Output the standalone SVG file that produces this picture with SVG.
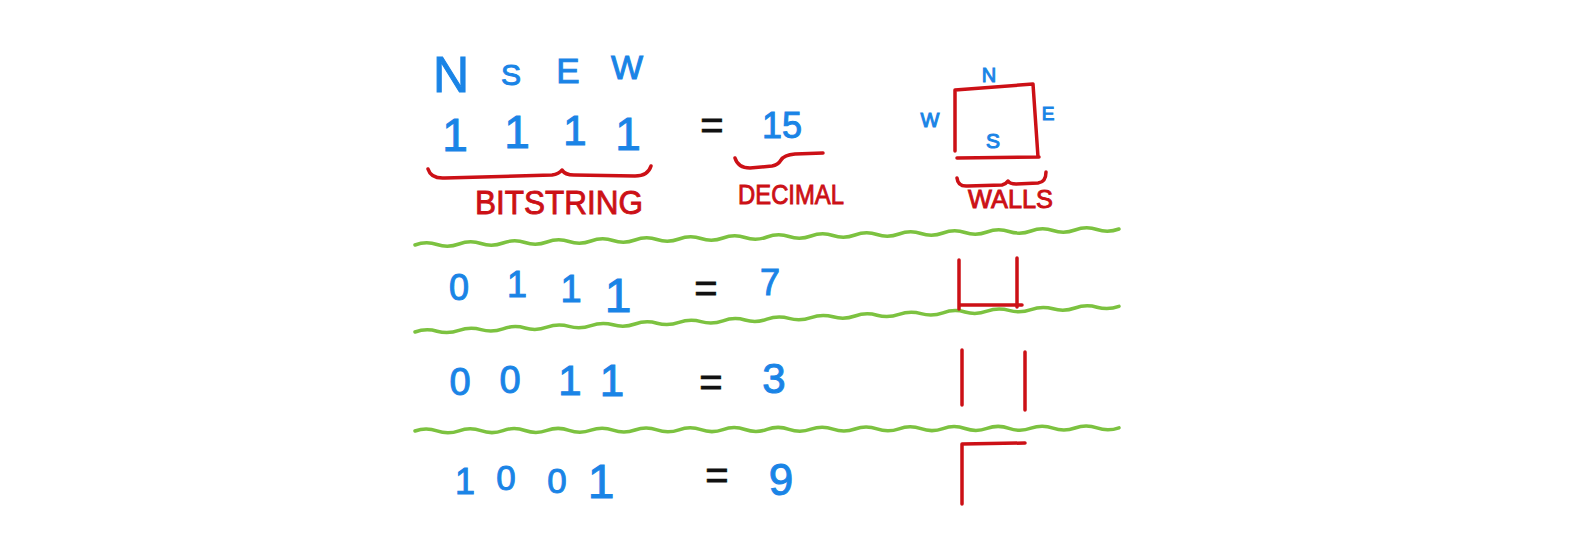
<svg xmlns="http://www.w3.org/2000/svg" width="1579" height="540" viewBox="0 0 1579 540">
<style>
.b{fill:#1a84e6;stroke:#1a84e6;stroke-width:1;font-family:"Liberation Sans",Arial,sans-serif}
.k{fill:#111;stroke:#111;stroke-width:0.8;font-family:"Liberation Sans",Arial,sans-serif}
.r{fill:#cc1016;stroke:#cc1016;stroke-width:0.9;font-family:"Liberation Sans",Arial,sans-serif}
.w{fill:none;stroke:#cc1016;stroke-width:3.5;stroke-linecap:round;stroke-linejoin:round}
.g{fill:none;stroke:#7cc240;stroke-width:3.5;stroke-linecap:round}
</style>
<rect width="1579" height="540" fill="#fff"/>
<g id="header">
<text class="b" x="451" y="92" font-size="50" text-anchor="middle">N</text>
<text class="b" x="511" y="85" font-size="30" text-anchor="middle">S</text>
<text class="b" x="568" y="83" font-size="35" text-anchor="middle">E</text>
<text class="b" x="627" y="79" font-size="34" text-anchor="middle">W</text>
</g>
<g id="row1">
<text class="b" x="455" y="151" font-size="46" text-anchor="middle">1</text>
<text class="b" x="517" y="148" font-size="46" text-anchor="middle">1</text>
<text class="b" x="575" y="145" font-size="42" text-anchor="middle">1</text>
<text class="b" x="628" y="150" font-size="46" text-anchor="middle">1</text>
<text class="k" x="712" y="139" font-size="40" text-anchor="middle">=</text>
<text class="b" x="782" y="138" font-size="36" text-anchor="middle">15</text>
<path class="w" d="M428,169 Q431,179 445,178 L552,175 Q559,174 562,170 Q565,175 574,175 L635,176 Q648,176 651,166"/>
<text class="r" x="475" y="214" font-size="34" textLength="168" lengthAdjust="spacingAndGlyphs">BITSTRING</text>
<path class="w" d="M735,158 Q738,168 750,168 L772,166 Q778,165 781,160 Q784,155 795,154 L823,153"/>
<text class="r" x="738" y="204" font-size="28" textLength="106" lengthAdjust="spacingAndGlyphs">DECIMAL</text>
<g id="cell15">
<path class="w" d="M955,90 L955,151 M955,90 L1033,84 L1038,157 M957,158 L1039,157"/>
<text class="b" x="989" y="82" font-size="20" text-anchor="middle">N</text>
<text class="b" x="930" y="127" font-size="20" text-anchor="middle">W</text>
<text class="b" x="1048" y="120" font-size="19" text-anchor="middle">E</text>
<text class="b" x="993" y="148" font-size="21" text-anchor="middle">S</text>
</g>
<path class="w" d="M957,178 Q958,187 968,186 L1002,185 Q1006,184 1008,181 Q1010,184 1016,184 L1038,183 Q1046,182 1046,172"/>
<text class="r" x="968" y="208" font-size="25" textLength="85" lengthAdjust="spacingAndGlyphs">WALLS</text>
</g>
<g id="separators">
<path class="g" d="M415,245 q11,-4 22,-0.5 t22,-0.5 t22,-0.5 t22,-0.5 t22,-0.5 t22,-0.5 t22,-0.5 t22,-0.5 t22,-0.5 t22,-0.5 t22,-0.5 t22,-0.5 t22,-0.5 t22,-0.5 t22,-0.5 t22,-0.5 t22,-0.5 t22,-0.5 t22,-0.5 t22,-0.5 t22,-0.5 t22,-0.5 t22,-0.5 t22,-0.5 t22,-0.5 t22,-0.5 t22,-0.5 t22,-0.5 t22,-0.5 t22,-0.5 t22,-0.5 t22,-0.5"/>
<path class="g" d="M415,332 q11,-4 22,-0.8 t22,-0.8 t22,-0.8 t22,-0.8 t22,-0.8 t22,-0.8 t22,-0.8 t22,-0.8 t22,-0.8 t22,-0.8 t22,-0.8 t22,-0.8 t22,-0.8 t22,-0.8 t22,-0.8 t22,-0.8 t22,-0.8 t22,-0.8 t22,-0.8 t22,-0.8 t22,-0.8 t22,-0.8 t22,-0.8 t22,-0.8 t22,-0.8 t22,-0.8 t22,-0.8 t22,-0.8 t22,-0.8 t22,-0.8 t22,-0.8 t22,-0.8"/>
<path class="g" d="M415,431 q11,-4 22,-0.1 t22,-0.1 t22,-0.1 t22,-0.1 t22,-0.1 t22,-0.1 t22,-0.1 t22,-0.1 t22,-0.1 t22,-0.1 t22,-0.1 t22,-0.1 t22,-0.1 t22,-0.1 t22,-0.1 t22,-0.1 t22,-0.1 t22,-0.1 t22,-0.1 t22,-0.1 t22,-0.1 t22,-0.1 t22,-0.1 t22,-0.1 t22,-0.1 t22,-0.1 t22,-0.1 t22,-0.1 t22,-0.1 t22,-0.1 t22,-0.1 t22,-0.1"/>
</g>
<g id="row2">
<text class="b" x="459" y="300" font-size="36" text-anchor="middle">0</text>
<text class="b" x="517" y="297" font-size="36" text-anchor="middle">1</text>
<text class="b" x="571" y="302" font-size="38" text-anchor="middle">1</text>
<text class="b" x="618" y="312" font-size="48" text-anchor="middle">1</text>
<text class="k" x="706" y="302" font-size="40" text-anchor="middle">=</text>
<text class="b" x="770" y="295" font-size="36" text-anchor="middle">7</text>
<path class="w" d="M959,260 L959,309 M959,305 L1022,305 M1017,258 L1017,307"/>
</g>
<g id="row3">
<text class="b" x="460" y="395" font-size="38" text-anchor="middle">0</text>
<text class="b" x="510" y="393" font-size="38" text-anchor="middle">0</text>
<text class="b" x="570" y="395" font-size="42" text-anchor="middle">1</text>
<text class="b" x="612" y="396" font-size="44" text-anchor="middle">1</text>
<text class="k" x="711" y="396" font-size="40" text-anchor="middle">=</text>
<text class="b" x="774" y="393" font-size="42" text-anchor="middle">3</text>
<path class="w" d="M962,350 L962,405 M1025,352 L1025,410"/>
</g>
<g id="row4">
<text class="b" x="465" y="494" font-size="36" text-anchor="middle">1</text>
<text class="b" x="506" y="490" font-size="35" text-anchor="middle">0</text>
<text class="b" x="557" y="493" font-size="35" text-anchor="middle">0</text>
<text class="b" x="601" y="498" font-size="48" text-anchor="middle">1</text>
<text class="k" x="717" y="489" font-size="40" text-anchor="middle">=</text>
<text class="b" x="781" y="495" font-size="44" text-anchor="middle">9</text>
<path class="w" d="M962,504 L962,444 L1025,443"/>
</g>
</svg>
